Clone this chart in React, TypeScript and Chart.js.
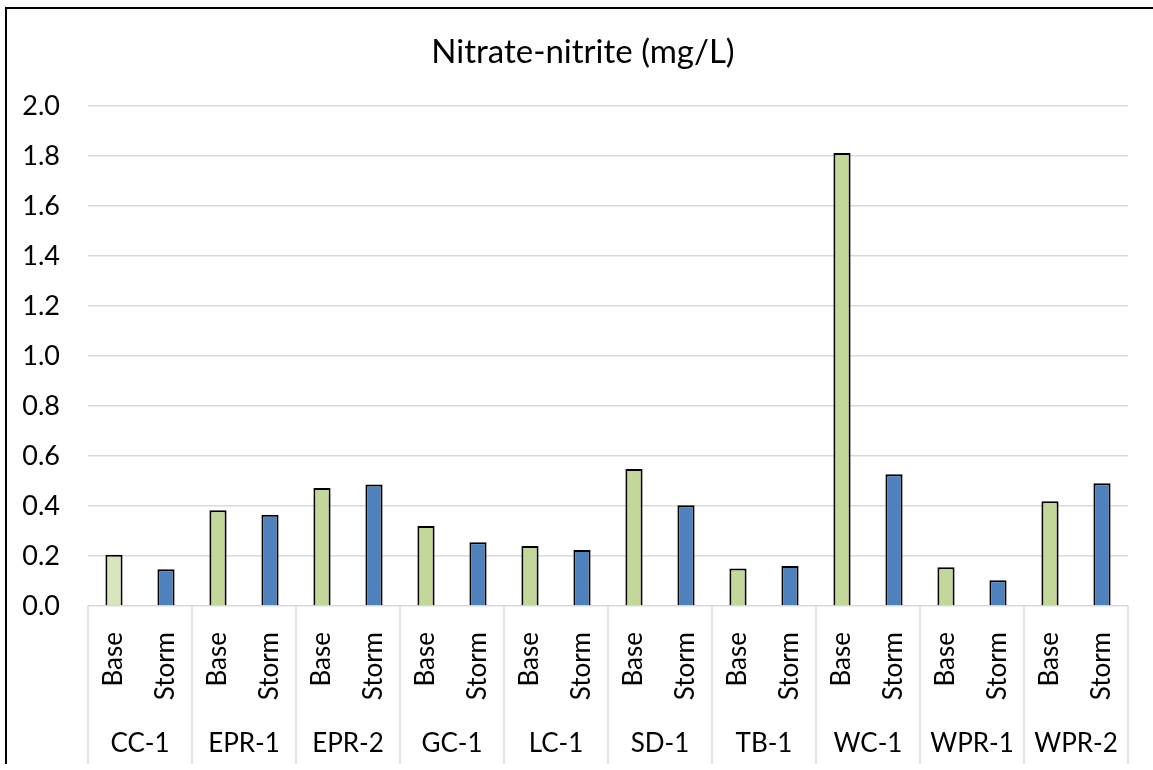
import React, { useEffect, useRef } from "react";
import { Chart, registerables } from "chart.js";

Chart.register(...registerables);

const sites = ["CC-1", "EPR-1", "EPR-2", "GC-1", "LC-1", "SD-1", "TB-1", "WC-1", "WPR-1", "WPR-2"];
const subLabels = ["Base", "Storm"];
const baseValues = [0.205, 0.383, 0.472, 0.32, 0.24, 0.548, 0.15, 1.812, 0.155, 0.419];
const stormValues = [0.147, 0.365, 0.486, 0.255, 0.224, 0.403, 0.16, 0.527, 0.103, 0.491];
const yTicks = [0, 0.2, 0.4, 0.6, 0.8, 1.0, 1.2, 1.4, 1.6, 1.8, 2.0];
const title = "Nitrate-nitrite (mg/L)";

const FONT = "Lato, 'Open Sans', sans-serif";

export default function App() {
  const ref = useRef<HTMLCanvasElement | null>(null);

  useEffect(() => {
    if (!ref.current) return;
    const labels: string[] = [];
    const data: number[] = [];
    const colors: string[] = [];
    sites.forEach((s, i) => {
      labels.push(subLabels[0]);
      data.push(baseValues[i]);
      colors.push(i === 0 ? "#d8e4bc" : "#c4d79b");
      labels.push(subLabels[1]);
      data.push(stormValues[i]);
      colors.push("#4f81bd");
    });

    const decor = {
      id: "decor",
      beforeDraw(chart: any) {
        const ctx = chart.ctx;
        ctx.save();
        ctx.fillStyle = "#ffffff";
        ctx.fillRect(0, 0, chart.width, chart.height);
        ctx.restore();
      },
      afterDraw(chart: any) {
        const ctx = chart.ctx;
        const x = chart.scales.x;
        const area = chart.chartArea;
        const half = (x.getPixelForValue(1) - x.getPixelForValue(0)) / 2;
        ctx.save();
        // group separators
        ctx.strokeStyle = "#d9d9d9";
        ctx.lineWidth = 1.5;
        for (let g = 0; g <= sites.length; g++) {
          const px = g < sites.length ? x.getPixelForValue(g * 2) - half : x.getPixelForValue(g * 2 - 1) + half;
          ctx.beginPath();
          ctx.moveTo(px, area.bottom);
          ctx.lineTo(px, 764);
          ctx.stroke();
        }
        // group labels
        ctx.fillStyle = "#000";
        ctx.font = `26px ${FONT}`;
        ctx.textAlign = "center";
        ctx.textBaseline = "alphabetic";
        sites.forEach((s, g) => {
          const cx = (x.getPixelForValue(g * 2) + x.getPixelForValue(g * 2 + 1)) / 2;
          ctx.fillText(s, cx, 752);
        });
        // title
        ctx.font = `33px ${FONT}`;
        ctx.fillText(title, 583, 63);
        // outer border (left and top)
        ctx.fillStyle = "#000";
        ctx.fillRect(5, 7, 2, 757);
        ctx.fillRect(5, 7, chart.width - 5, 2);
        ctx.restore();
      },
    };

    const chart = new Chart(ref.current, {
      type: "bar",
      data: {
        labels,
        datasets: [
          {
            data,
            backgroundColor: colors,
            borderColor: "#000",
            borderWidth: 2,
            barPercentage: 0.33,
            categoryPercentage: 1,
          },
        ],
      },
      options: {
        animation: false,
        responsive: false,
        devicePixelRatio: 1,
        layout: { padding: { left: 0, right: 25, top: 106, bottom: 0 } },
        plugins: {
          legend: { display: false },
          title: { display: false },
          tooltip: { enabled: false },
        },
        scales: {
          x: {
            type: "category",
            grid: { display: false, drawTicks: false },
            border: { display: false },
            ticks: {
              minRotation: 90,
              maxRotation: 90,
              padding: 26,
              color: "#000",
              font: { family: FONT, size: 26 },
              autoSkip: false,
            },
            afterFit(scale: any) {
              scale.height = 164;
              scale.paddingLeft = 0;
              scale.paddingRight = 0;
            },
          },
          y: {
            min: 0,
            max: 2,
            afterBuildTicks(scale: any) {
              scale.ticks = yTicks.map((v) => ({ value: v }));
            },
            grid: { color: "#d9d9d9", lineWidth: 1.5, drawTicks: false },
            border: { display: false },
            ticks: {
              padding: 28,
              color: "#000",
              font: { family: FONT, size: 27 },
              callback: (v: any) => Number(v).toFixed(1),
            },
            afterFit(scale: any) {
              scale.width = 88;
              scale.paddingTop = 0;
              scale.paddingBottom = 0;
            },
          },
        },
      },
      plugins: [decor],
    });
    return () => chart.destroy();
  }, []);

  return (
    <div style={{ position: "fixed", left: 0, top: 0, width: 1153, height: 770, background: "#fff" }}>
      <canvas ref={ref} width={1153} height={770} style={{ display: "block", width: 1153, height: 770 }} />
    </div>
  );
}
